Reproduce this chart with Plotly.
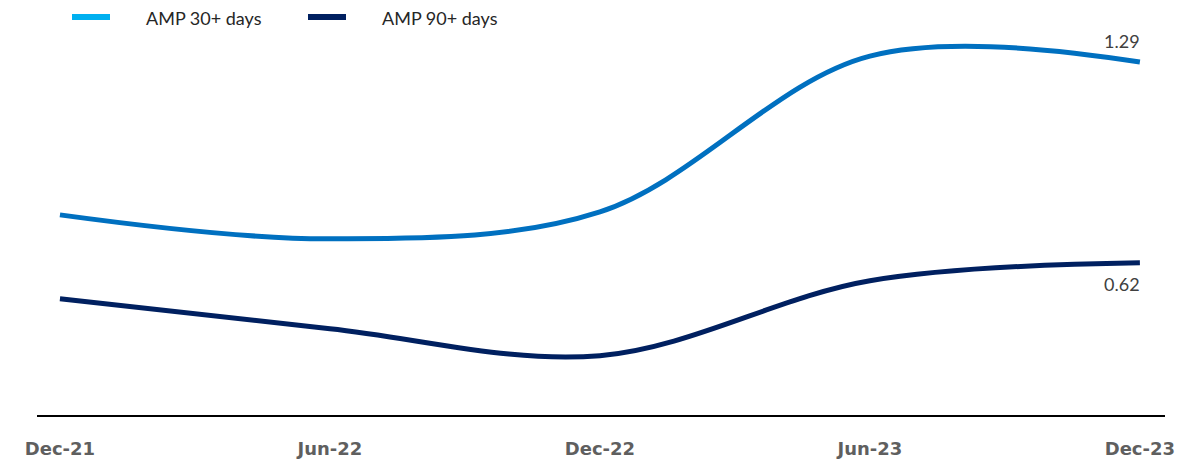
import plotly.graph_objects as go

# Half-yearly periods and arrears rates
periods = ["Dec-21", "Jun-22", "Dec-22", "Jun-23", "Dec-23"]
amp_30 = [0.78, 0.70, 0.79, 1.31, 1.29]
amp_90 = [0.50, 0.40, 0.31, 0.56, 0.62]

series_names = ["AMP 30+ days", "AMP 90+ days"]
line_colors = ["#0070C0", "#002060"]
legend_colors = ["#00B0F0", "#002060"]

x = list(range(len(periods)))
fig = go.Figure()

for name, vals, col in zip(series_names, [amp_30, amp_90], line_colors):
    fig.add_trace(go.Scatter(
        x=x, y=vals, mode="lines", name=name,
        line=dict(color=col, width=5, shape="spline", smoothing=1.0),
        showlegend=False, hoverinfo="skip",
    ))

# Value labels on the last period
fig.add_annotation(x=x[-1], y=amp_30[-1], text=f"{amp_30[-1]:.2f}", showarrow=False,
                   xanchor="right", yanchor="bottom", xshift=2, yshift=8,
                   font=dict(size=18, color="#404040", family="Lato"))
fig.add_annotation(x=x[-1], y=amp_90[-1], text=f"{amp_90[-1]:.2f}", showarrow=False,
                   xanchor="right", yanchor="top", xshift=2, yshift=-8,
                   font=dict(size=18, color="#404040", family="Lato"))

# Legend drawn along the top edge
legend_x = [72, 308]
for lx, name, col in zip(legend_x, series_names, legend_colors):
    fig.add_shape(type="line", xref="paper", yref="paper",
                  x0=(lx - 37) / 1128, x1=(lx + 38 - 37) / 1128,
                  y0=(415 - 17) / 385, y1=(415 - 17) / 385,
                  line=dict(color=col, width=6))
    fig.add_annotation(xref="paper", yref="paper",
                       x=(lx + 72 - 37) / 1128, y=(415 - 18) / 385,
                       text=name, showarrow=False, xanchor="left", yanchor="middle",
                       font=dict(size=18, color="#262626", family="Lato"))

fig.update_layout(
    width=1204, height=464,
    margin=dict(l=37, r=39, t=30, b=49, autoexpand=False),
    paper_bgcolor="white", plot_bgcolor="white",
    xaxis=dict(
        range=[-0.085, 4.093], tickmode="array", tickvals=x, ticktext=periods,
        showgrid=False, zeroline=False, showline=True, linecolor="#000000", linewidth=2,
        ticks="", tickfont=dict(size=18, color="#5f5f5f", family="DejaVu Sans", weight="bold"),
        ticklabelstandoff=16,
    ),
    yaxis=dict(range=[0.112, 1.397], visible=False, showgrid=False, zeroline=False),
)

fig.write_html("out.html")
